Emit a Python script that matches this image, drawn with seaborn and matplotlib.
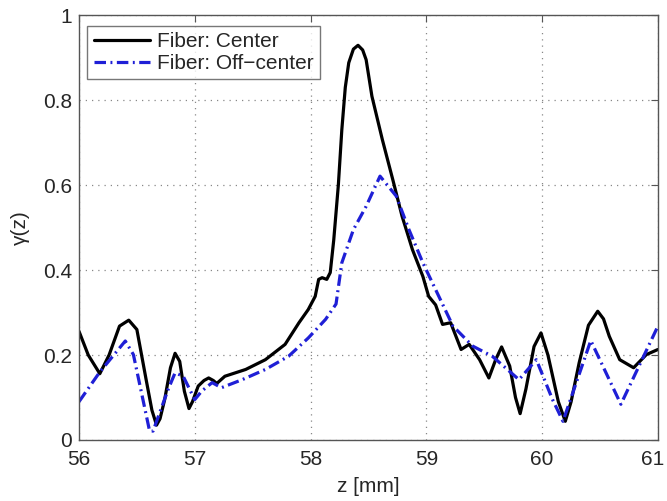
import matplotlib
matplotlib.use("Agg")
import matplotlib.pyplot as plt
import matplotlib.transforms as mtransforms
import seaborn as sns
import pandas as pd

# ---- data ----
z_center = [56.00, 56.08, 56.18, 56.26, 56.35, 56.43, 56.50, 56.58, 56.63, 56.67,
            56.70, 56.74, 56.79, 56.83, 56.87, 56.91, 56.95, 56.98, 57.03, 57.08,
            57.12, 57.16, 57.19, 57.26, 57.44, 57.61, 57.78, 57.90, 57.98, 58.04,
            58.07, 58.10, 58.14, 58.17, 58.20, 58.24, 58.27, 58.30, 58.33, 58.37,
            58.41, 58.45, 58.48, 58.53, 58.62, 58.71, 58.79, 58.88, 58.97, 59.02,
            59.08, 59.14, 59.21, 59.30, 59.37, 59.46, 59.54, 59.60, 59.65, 59.72,
            59.77, 59.81, 59.86, 59.93, 59.99, 60.05, 60.14, 60.20, 60.25, 60.32,
            60.40, 60.48, 60.53, 60.58, 60.67, 60.79, 60.90, 61.00]
gamma_center = [0.256, 0.200, 0.156, 0.200, 0.268, 0.282, 0.260, 0.142, 0.070, 0.035,
                0.050, 0.095, 0.170, 0.204, 0.185, 0.115, 0.074, 0.090, 0.127, 0.140,
                0.146, 0.140, 0.133, 0.150, 0.166, 0.189, 0.225, 0.276, 0.307, 0.338,
                0.378, 0.382, 0.378, 0.394, 0.470, 0.600, 0.730, 0.830, 0.888, 0.920,
                0.929, 0.918, 0.895, 0.809, 0.707, 0.613, 0.527, 0.448, 0.385, 0.338,
                0.318, 0.272, 0.276, 0.213, 0.225, 0.189, 0.146, 0.190, 0.219, 0.174,
                0.100, 0.062, 0.120, 0.220, 0.252, 0.200, 0.090, 0.044, 0.090, 0.182,
                0.270, 0.303, 0.285, 0.244, 0.189, 0.170, 0.201, 0.213]

z_off = [56.00, 56.18, 56.40, 56.47, 56.61, 56.64, 56.77, 56.83, 56.90, 57.00,
         57.06, 57.15, 57.23, 57.41, 57.61, 57.81, 57.98, 58.13, 58.22, 58.27,
         58.37, 58.48, 58.60, 58.74, 58.85, 58.97, 59.08, 59.23, 59.40, 59.57,
         59.80, 59.95, 60.09, 60.18, 60.42, 60.68, 61.00]
gamma_off = [0.090, 0.160, 0.233, 0.201, 0.021, 0.021, 0.119, 0.158, 0.150, 0.095,
             0.115, 0.135, 0.123, 0.142, 0.166, 0.197, 0.240, 0.284, 0.320, 0.417,
             0.495, 0.550, 0.621, 0.574, 0.495, 0.417, 0.354, 0.268, 0.221, 0.197,
             0.142, 0.189, 0.095, 0.044, 0.234, 0.084, 0.268]

labels = ["Fiber: Center", "Fiber: Off\u2212center"]
xticks = [56, 57, 58, 59, 60, 61]
yticks = [0, 0.2, 0.4, 0.6, 0.8, 1.0]
ytick_labels = ["0", "0.2", "0.4", "0.6", "0.8", "1"]

# ---- plotting ----
sns.set_style("white")
plt.rcParams["font.family"] = ["Liberation Sans", "DejaVu Sans"]

fig = plt.figure(figsize=(6.67, 5.01), dpi=100)
ax = fig.add_axes([0.1184, 0.1218, 0.868, 0.848])

df_c = pd.DataFrame({"z": z_center, "g": gamma_center})
df_o = pd.DataFrame({"z": z_off, "g": gamma_off})

sns.lineplot(data=df_c, x="z", y="g", ax=ax, color="black", linewidth=2.3,
             sort=False, label=labels[0])
sns.lineplot(data=df_o, x="z", y="g", ax=ax, color="#1f1fd6", linewidth=2.3,
             sort=False, label=labels[1], linestyle=(0, (3.6, 1.4, 0.6, 1.4)))

ax.set_xlim(56, 61)
ax.set_ylim(0, 1)
ax.set_xticks(xticks)
ax.set_xticklabels([str(t) for t in xticks])
ax.set_yticks(yticks)
ax.set_yticklabels(ytick_labels)
ax.tick_params(axis="both", direction="in", length=5, top=True, right=True,
               labelsize=15, color="#555555")
ax.tick_params(axis="x", pad=7)
ax.tick_params(axis="y", pad=5)
ax.grid(True, linestyle=(0, (1, 4)), color="#888888", linewidth=0.9)
for sp in ax.spines.values():
    sp.set_color("#555555")
    sp.set_linewidth(1.0)

# keep the last x tick label inside the canvas
last = ax.get_xticklabels()[-1]
last.set_transform(last.get_transform() +
                   mtransforms.ScaledTranslation(-5 / 100, 0, fig.dpi_scale_trans))

ax.set_xlabel("z [mm]", fontsize=15, labelpad=6)
ax.set_ylabel("\u03b3(z)", fontsize=15, labelpad=9)

leg = ax.legend(loc="upper left", bbox_to_anchor=(0.0, 0.995), fontsize=15,
                frameon=True, fancybox=False, edgecolor="#555555",
                handlelength=2.7, borderpad=0.3, labelspacing=0.15,
                handletextpad=0.35, borderaxespad=0.4)
leg.get_frame().set_linewidth(1.0)

fig.savefig("out.png", dpi=100)
